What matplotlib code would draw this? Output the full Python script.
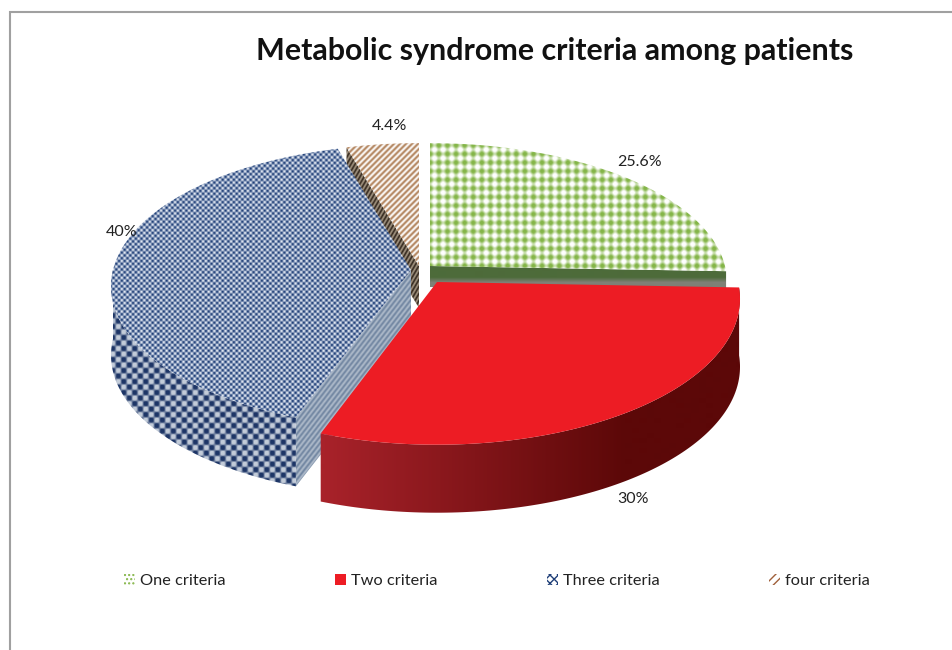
import numpy as np
import matplotlib
matplotlib.use("Agg")
import matplotlib.pyplot as plt
from matplotlib.patches import Patch, Polygon

categories = ["One criteria", "Two criteria", "Three criteria", "four criteria"]
shares = [25.6, 30, 40, 4.4]
pct_labels = ["25.6%", "30%", "40%", "4.4%"]

plt.rcParams["font.family"] = ["Lato", "DejaVu Sans"]

W, H = 952, 650
K = 0.115
# per slice apex, x radius, y radius, side depth (the red slice is pulled out)
apex = [(430, 266), (437, 282), (411, 270), (419, 266)]
rad_x = [295.0, 301.0, 298.0, 295.0]
rad_y = [137.0, 144.0, 140.0, 137.0]
depth = [21.0, 68.0, 69.0, 42.0]

fig = plt.figure(figsize=(W / 100, H / 100), dpi=100)
ax = fig.add_axes([0, 0, 1, 1])
ax.set_xlim(0, W)
ax.set_ylim(H, 0)
ax.axis("off")
yy, xx = np.mgrid[0:H, 0:W]


def project(theta, i, drop=0.0):
    # theta clockwise from 12 o'clock, simple perspective on the disc
    t = np.radians(theta)
    x, y = np.sin(t), np.cos(t)
    w = 1 + K * y
    return np.c_[apex[i][0] + rad_x[i] * x / w, apex[i][1] - rad_y[i] * y / w + drop]


def rgb(c):
    return np.array(matplotlib.colors.to_rgb(c))


def mix(a, b, f):
    f = np.clip(f, 0, 1)[..., None]
    return rgb(a) * (1 - f) + rgb(b) * f


def paint(poly, img):
    im = ax.imshow(img, extent=(-0.5, W - 0.5, H - 0.5, -0.5), interpolation="bilinear", aspect="auto")
    p = Polygon(poly, closed=True, fc="none", ec="none", transform=ax.transData)
    ax.add_patch(p)
    im.set_clip_path(p)


def top_poly(i, a0, a1):
    return np.vstack([[apex[i]], project(np.linspace(a0, a1, 120), i)])


def wall_poly(i, a0, a1):
    t = np.linspace(a0, a1, 120)
    return np.vstack([project(t, i), project(t[::-1], i, depth[i])])


def cut_poly(i, a):
    e = project(np.array([a]), i)[0]
    c = np.array(apex[i], float)
    d = np.array([0, depth[i]])
    return np.array([c, e, e + d, c + d])


bounds = np.cumsum([0] + shares) * 3.6
tex_green = mix("#84b548", "#ffffff", 0.55 - 0.4 * (np.cos(2 * np.pi * xx / 8.6) + np.cos(2 * np.pi * yy / 8.6)))
tex_blue = mix("#1f3f78", "#e4eaf4", 0.5 + 0.8 * np.sin(2 * np.pi * xx / 5.6) * np.sin(2 * np.pi * yy / 5.6))
tex_wall = mix("#1d3566", "#c3ccd9", 0.5 + 1.2 * np.sin(2 * np.pi * xx / 11.0) * np.sin(2 * np.pi * yy / 11.0))
tex_cut = mix("#6f84a0", "#b0bccb", 0.5 + 0.6 * np.sin(2 * np.pi * (yy + 1.29 * xx) / 6.5))
tex_brown = mix("#b08058", "#ffffff", 0.5 + 0.7 * np.sin(2 * np.pi * (xx + yy) / 6.0))
tex_brown_cut = mix("#30241a", "#a89a86", 0.5 + 0.7 * np.sin(2 * np.pi * (yy + 1.7 * xx) / 7.0))
tex_green_cut = mix("#4d6b3a", "#7f8076", (yy - 278) / 5.0)
red_side = mix("#a8222a", "#5c0808", (xx - 325) / 300.0)

# back slices first, exploded red one last
paint(cut_poly(0, bounds[1]), tex_green_cut)
paint(top_poly(0, bounds[0], bounds[1]), tex_green)
paint(cut_poly(3, bounds[3]), tex_brown_cut)
paint(top_poly(3, bounds[3], bounds[4]), tex_brown)
paint(cut_poly(2, bounds[2]), tex_cut)
paint(wall_poly(2, bounds[2], 270), tex_wall)
paint(top_poly(2, bounds[2], bounds[3]), tex_blue)
paint(wall_poly(1, bounds[1], bounds[2]), red_side)
ax.add_patch(Polygon(top_poly(1, bounds[1], bounds[2]), closed=True, fc="#ed1c24", ec="none"))

ax.text(640, 162, pct_labels[0], fontsize=11.5, ha="center", va="center", color="#222222")
ax.text(633, 499, pct_labels[1], fontsize=11.5, ha="center", va="center", color="#222222")
ax.text(122, 232, pct_labels[2], fontsize=11.5, ha="center", va="center", color="#222222")
ax.text(389, 126, pct_labels[3], fontsize=11.5, ha="center", va="center", color="#222222")
ax.text(555, 51, "Metabolic syndrome criteria among patients", fontsize=21.9, fontweight="bold",
        ha="center", va="center", color="#111111")

# chart frame, only top and left survive the crop
ax.plot([10, 10, W], [H, 12, 12], color="#a0a0a0", lw=1.5, solid_joinstyle="miter")

plt.rcParams["hatch.linewidth"] = 1.0
handles = [
    Patch(fc="white", ec="#84b548", hatch="....", lw=0),
    Patch(fc="#ed1c24", ec="#ed1c24", lw=0),
    Patch(fc="white", ec="#1f3f78", hatch="xxxx", lw=0),
    Patch(fc="white", ec="#a0603a", hatch="////", lw=0),
]
ax.legend(handles, categories, ncol=4, loc="center", bbox_to_anchor=(497 / W, 1 - 581 / H),
          frameon=False, fontsize=11.8, handlelength=0.65, handleheight=0.65, handletextpad=0.3,
          columnspacing=6.7, labelcolor="#222222")

fig.savefig("out.png", dpi=100)
